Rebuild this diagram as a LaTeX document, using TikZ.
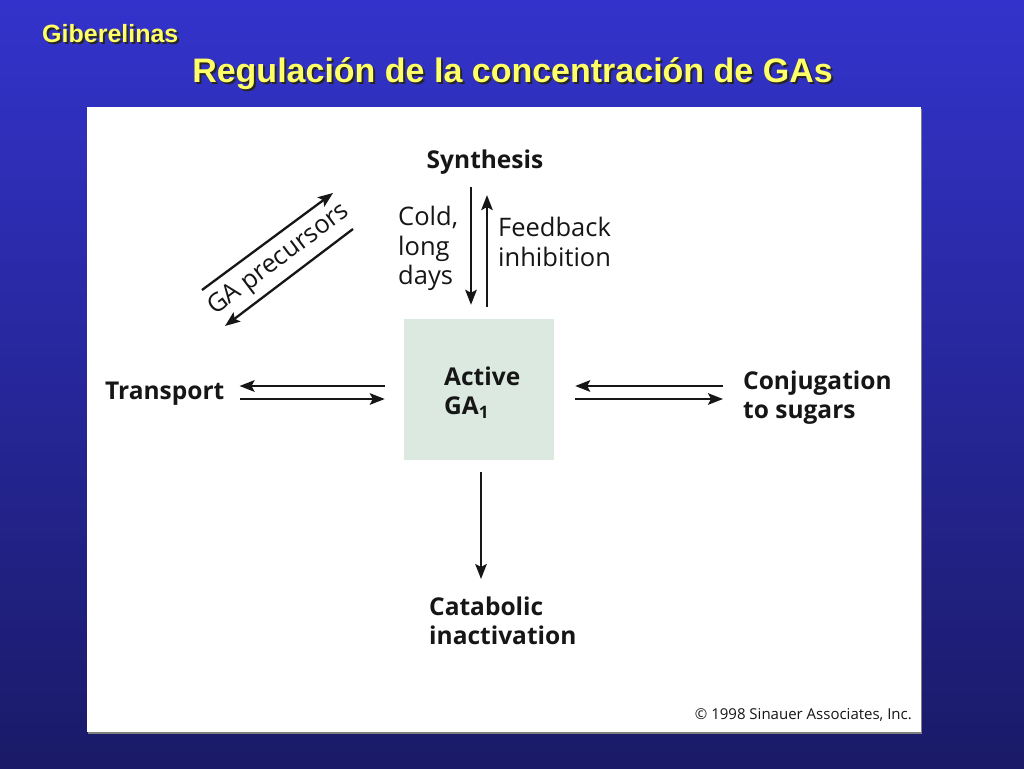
\documentclass[tikz,border=0pt]{standalone}
\usepackage{fontspec}
\setmainfont{Open Sans}
\newfontfamily\titfont{Liberation Sans}
\usetikzlibrary{arrows.meta,positioning}
\definecolor{fondoarriba}{RGB}{51,51,204}
\definecolor{fondoabajo}{RGB}{26,26,104}
\definecolor{amarillo}{RGB}{255,255,102}
\definecolor{verdecaja}{RGB}{220,233,224}
\definecolor{tinta}{RGB}{22,22,22}
\tikzset{
  flecha/.style={-{Stealth[length=15pt,width=11.5pt,inset=3pt]},line width=2.3pt,draw=tinta},
  etiq/.style={font=\fontsize{25.5}{29.5}\selectfont,text=tinta,inner sep=0pt,align=left},
  etiqb/.style={etiq,font=\fontsize{24.5}{29}\selectfont\bfseries},
  caja/.style={fill=verdecaja,minimum width=150pt,minimum height=141pt,inner sep=0pt},
  titulo/.style={inner sep=0pt,text=amarillo},
  sombra/.style={inner sep=0pt,text=black!85}
}

\begin{document}
\begin{tikzpicture}[x=1pt,y=-1pt]
  \useasboundingbox (0,0) rectangle (1024,768);
  \shade[top color=fondoarriba,bottom color=fondoabajo] (0,0) rectangle (1024,768);
  \fill[black!50] (88,109) rectangle (922,734);
  \fill[white] (87,107) rectangle (921,732);

  \node[sombra,anchor=base west,font=\titfont\bfseries\fontsize{25}{30}\selectfont] (secc-s) at (44,45) {Giberelinas};
  \node[titulo,anchor=base west,font=\titfont\bfseries\fontsize{25}{30}\selectfont] (secc) at (42,43) {Giberelinas};
  \node[sombra,anchor=base,font=\titfont\bfseries\fontsize{34}{40}\selectfont] (tit-s) at (514.5,84) {Regulación de la concentración de GAs};
  \node[titulo,anchor=base,font=\titfont\bfseries\fontsize{34}{40}\selectfont] (tit) at (512.5,82) {Regulación de la concentración de GAs};

  \node[caja] (active) at (479,389.5) {};
  \node[etiqb,anchor=north west] (activelbl) at (444,367) {Active\\GA\textsubscript{1}};
  \node[etiqb,anchor=base] (synth) at (485,168) {Synthesis};
  \node[etiq,anchor=north west] (cold) at (398,206) {Cold,\\long\\days};
  \node[etiq,anchor=north west] (feedback) at (498,217) {Feedback\\inhibition};
  \node[etiqb,anchor=base west] (transport) at (105,399) {Transport};
  \node[etiqb,anchor=north west] (conj) at (743,371) {Conjugation\\to sugars};
  \node[etiqb,anchor=north west] (catab) at (429,597) {Catabolic\\inactivation};
  \node[etiq,rotate=37] (precursors) at (279,260) {GA precursors};
  \node[etiq,anchor=base east,font=\fontsize{15}{18}\selectfont] (copyr) at (912,719) {© 1998 Sinauer Associates, Inc.};

  \coordinate (prec-a1) at (202,290);
  \coordinate (prec-a2) at (333,193);
  \coordinate (prec-b1) at (353,229);
  \coordinate (prec-b2) at (225,326);
  \draw[flecha] (prec-a1) -- (prec-a2);
  \draw[flecha] (prec-b1) -- (prec-b2);

  \draw[flecha,shorten <=13pt,shorten >=14pt] ([xshift=-8pt]active.north |- synth.south) -- ([xshift=-8pt]active.north);
  \draw[flecha,shorten <=12pt,shorten >=21pt] ([xshift=8pt]active.north) -- ([xshift=8pt]active.north |- synth.south);
  \draw[flecha,shorten <=19pt,shorten >=15pt] ([yshift=3.5pt]active.west) -- ([yshift=3.5pt]active.west -| transport.east);
  \draw[flecha,shorten <=15pt,shorten >=19pt] ([yshift=-9.5pt]active.west -| transport.east) -- ([yshift=-9.5pt]active.west);
  \draw[flecha,shorten <=20pt,shorten >=21pt] ([yshift=3.5pt]active.east -| conj.west) -- ([yshift=3.5pt]active.east);
  \draw[flecha,shorten <=21pt,shorten >=20pt] ([yshift=-9.5pt]active.east) -- ([yshift=-9.5pt]active.east -| conj.west);
  \draw[flecha,shorten <=12pt,shorten >=18pt] ([xshift=2pt]active.south) -- ([xshift=2pt]active.south |- catab.north);
\end{tikzpicture}
\end{document}
